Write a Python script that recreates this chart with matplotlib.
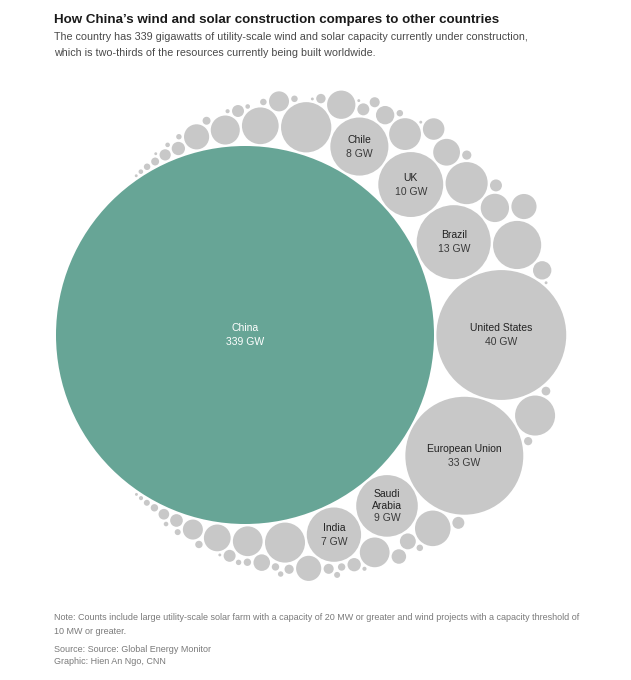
import math
import matplotlib
matplotlib.use("Agg")
import numpy as np
from matplotlib import pyplot as plt
from matplotlib.patches import Circle

plt.rcParams['font.family'] = ['Liberation Sans', 'DejaVu Sans']

# labelled countries, GW under construction
names = ["China", "United States", "European Union", "Brazil", "UK",
         "Saudi\nArabia", "Chile", "India"]
gw = [339, 40, 33, 13, 10, 9, 8, 7]

# unlabelled countries (GW)
other_gw = [6, 5.5, 4.2, 3.8, 3.8, 3.2, 3.0, 2.4, 2.1, 2.1, 2.0, 1.9, 1.9,
            1.7, 1.7, 1.5, 1.5, 1.5, 1.1, 0.95, 0.95, 0.8, 0.8, 0.65, 0.6,
            0.5, 0.42, 0.42, 0.38, 0.34, 0.34, 0.34, 0.34, 0.34, 0.3, 0.27,
            0.24, 0.24, 0.21, 0.2, 0.2, 0.18, 0.16, 0.15, 0.15, 0.13, 0.13,
            0.13, 0.13, 0.13, 0.1, 0.1, 0.1, 0.1, 0.1, 0.085, 0.085, 0.085,
            0.07, 0.07, 0.07, 0.05, 0.05, 0.05, 0.05, 0.04, 0.04, 0.04,
            0.02, 0.02, 0.02, 0.02, 0.02, 0.02, 0.02, 0.02]

W, H = 631, 680
K = 189 / math.sqrt(339)      # px of radius per sqrt(GW)
PAD = 1.2                      # gap between bubbles, px
CX, CY = 245, 335              # where the China bubble sits
PULL = 66                      # pack towards a point this far right of China


# ---- front-chain circle packing (after d3.packSiblings) ----
def place(b, a, c):
    dx = b[0] - a[0]
    dy = b[1] - a[1]
    d2 = dx * dx + dy * dy
    if d2:
        a2 = (a[2] + c[2]) ** 2
        b2 = (b[2] + c[2]) ** 2
        if a2 > b2:
            x = (d2 + b2 - a2) / (2 * d2)
            y = math.sqrt(max(0, b2 / d2 - x * x))
            c[0] = b[0] - x * dx - y * dy
            c[1] = b[1] - x * dy + y * dx
        else:
            x = (d2 + a2 - b2) / (2 * d2)
            y = math.sqrt(max(0, a2 / d2 - x * x))
            c[0] = a[0] + x * dx - y * dy
            c[1] = a[1] + x * dy + y * dx
    else:
        c[0] = a[0] + c[2]
        c[1] = a[1]


def intersects(a, b):
    dr = a[2] + b[2] - 1e-6
    dx = b[0] - a[0]
    dy = b[1] - a[1]
    return dr > 0 and dr * dr > dx * dx + dy * dy


def pack(radii, px):
    circ = [[0.0, 0.0, r] for r in radii]
    n = len(circ)
    circ[1][0] = circ[0][2] + circ[1][2]
    place(circ[1], circ[0], circ[2])
    nxt = {0: 1, 1: 2, 2: 0}
    prv = {1: 0, 2: 1, 0: 2}
    a, b = 0, 1

    def score(i):
        p, q = circ[i], circ[nxt[i]]
        ab = p[2] + q[2]
        dx = (p[0] * q[2] + q[0] * p[2]) / ab - px
        dy = (p[1] * q[2] + q[1] * p[2]) / ab
        return dx * dx + dy * dy

    i = 3
    while i < n:
        place(circ[a], circ[b], circ[i])
        j, k = nxt[b], prv[a]
        sj, sk = circ[b][2], circ[a][2]
        hit = False
        while True:
            if sj <= sk:
                if intersects(circ[j], circ[i]):
                    b = j
                    nxt[a] = b
                    prv[b] = a
                    hit = True
                    break
                sj += circ[j][2]
                j = nxt[j]
            else:
                if intersects(circ[k], circ[i]):
                    a = k
                    nxt[a] = b
                    prv[b] = a
                    hit = True
                    break
                sk += circ[k][2]
                k = prv[k]
            if j == nxt[k]:
                break
        if hit:
            continue
        prv[i], nxt[i] = a, b
        nxt[a] = i
        prv[b] = i
        aa = score(a)
        c = i
        while True:
            c = nxt[c]
            if c == i:
                break
            ca = score(c)
            if ca < aa:
                a, aa = c, ca
        b = nxt[a]
        i += 1
    return np.array(circ)


values = gw + other_gw
radii = [K * math.sqrt(v) + PAD for v in values]
pos = pack(radii, PULL)
xs = pos[:, 0] + CX
ys = pos[:, 1] + CY
rs = pos[:, 2] - PAD

fig = plt.figure(figsize=(W / 100, H / 100), dpi=100)
ax = fig.add_axes([0, 0, 1, 1])
ax.set_xlim(0, W)
ax.set_ylim(H, 0)
ax.set_aspect('equal')
ax.axis('off')

for i, (x, y, r) in enumerate(zip(xs, ys, rs)):
    col = '#67a596' if i == 0 else '#c8c8c8'
    ax.add_patch(Circle((x, y), r, facecolor=col, edgecolor='none'))

for i, name in enumerate(names):
    lines = name.split('\n') + [f"{gw[i]} GW"]
    n = len(lines)
    step = 14 if n == 2 else 11.8
    for j, t in enumerate(lines):
        yy = ys[i] + (j - (n - 1) / 2) * step
        if i == 0:
            c = 'white'
        else:
            c = '#222222' if j < n - 1 else '#3a3a3a'
        ax.text(xs[i], yy, t, ha='center', va='center', fontsize=7.5, color=c)

ax.text(54, 20, "How China’s wind and solar construction compares to other countries",
        fontsize=9.6, fontweight='bold', color='#1a1a1a', va='center')
ax.text(54, 37.5, "The country has 339 gigawatts of utility-scale wind and solar capacity currently under construction,",
        fontsize=7.75, color='#4a4a4a', va='center')
ax.text(54, 53, "which is two-thirds of the resources currently being built worldwide.",
        fontsize=7.75, color='#4a4a4a', va='center')

ax.text(54, 617, "Note: Counts include large utility-scale solar farm with a capacity of 20 MW or greater and wind projects with a capacity threshold of",
        fontsize=6.45, color='#7a7a7a', va='center')
ax.text(54, 631, "10 MW or greater.", fontsize=6.45, color='#7a7a7a', va='center')
ax.text(54, 649, "Source: Source: Global Energy Monitor", fontsize=6.45, color='#7a7a7a', va='center')
ax.text(54, 662, "Graphic: Hien An Ngo, CNN", fontsize=6.45, color='#7a7a7a', va='center')

fig.savefig("out.png", dpi=100, facecolor='white')
